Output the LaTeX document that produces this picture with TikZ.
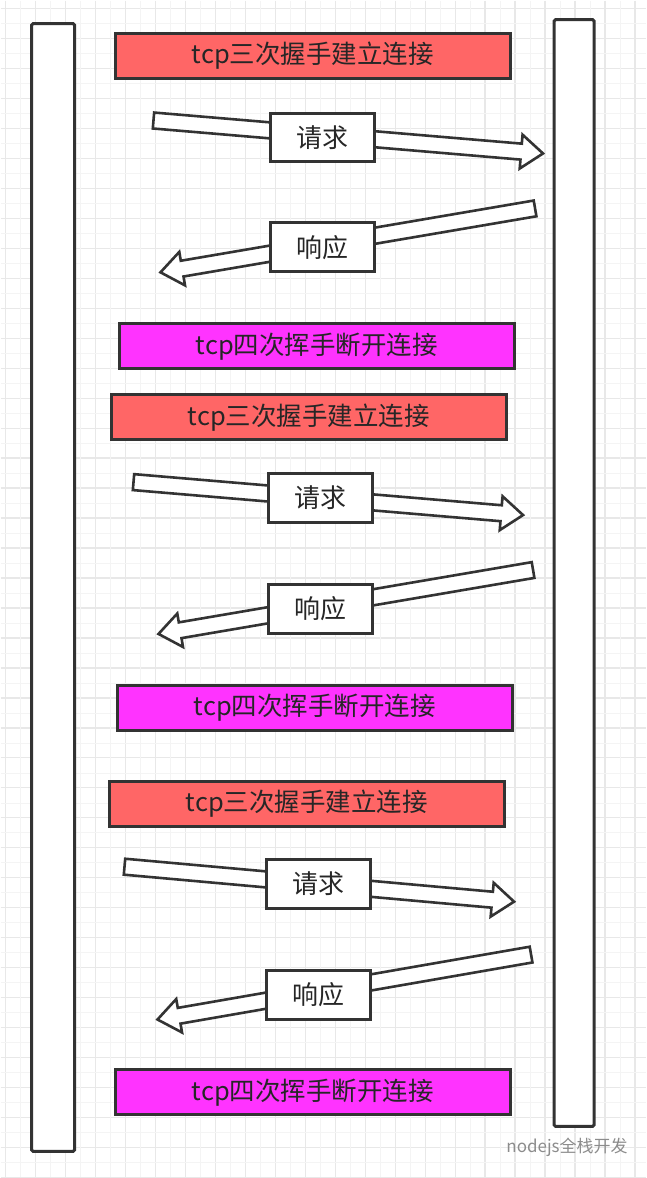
\documentclass[tikz,border=0pt]{standalone}
\usepackage{fontspec}
\setmainfont{Noto Sans CJK SC}
\usetikzlibrary{calc}
\definecolor{redbox}{HTML}{FF6666}
\definecolor{magbox}{HTML}{FF33FF}
\definecolor{edge}{HTML}{333333}
\definecolor{gridc}{HTML}{E8E8E8}
\newcommand\harrow[2]{\draw[edge,fill=white,line width=2.6pt,line join=miter] let \p1=(#1),\p2=(#2),\n1={atan2(\y2-\y1,\x2-\x1)},\n2={veclen(\x2-\x1,\y2-\y1)} in [shift={(\p1)},rotate=\n1] (0,-8)--({\n2-22},-8)--({\n2-22},-17)--({\n2},0)--({\n2-22},17)--({\n2-22},8)--(0,8)--cycle;}
\begin{document}
\begin{tikzpicture}[x=1pt,y=-1pt,
  bar/.style={draw=edge,fill=white,line width=3pt,rounded corners=1.5pt},
  band/.style={draw=edge,line width=3pt,minimum height=45pt,font=\fontsize{25.5}{27}\selectfont,text=black!85,inner sep=0pt},
  hs/.style={band,fill=redbox,minimum width=396pt},
  hf/.style={band,fill=magbox,minimum width=396pt},
  lab/.style={draw=edge,fill=white,line width=3pt,minimum width=104pt,minimum height=49pt,font=\fontsize{26}{28}\selectfont,text=black!85,inner sep=0pt}]
\fill[white] (0,0) rectangle (646,1178);
\foreach \x in {5,35,...,646} \draw[gridc,line width=1.3pt] (\x,0)--(\x,1178);
\foreach \y in {8,38,...,1178} \draw[gridc,line width=1.3pt] (0,\y)--(646,\y);
\foreach \x in {20,50,...,646} \draw[gridc!50,line width=0.5pt] (\x,0)--(\x,1178);
\foreach \y in {23,53,...,1178} \draw[gridc!50,line width=0.5pt] (0,\y)--(646,\y);
\useasboundingbox (0,0) rectangle (646,1178);
\draw[bar] (31,23) rectangle (74,1152);
\draw[bar] (554,19) rectangle (594,1127);
% group 1
\node[hs] (s1) at (312.5,55.5) {tcp三次握手建立连接};
\coordinate (q1a) at (153,120); \coordinate (q1b) at (543,153);
\harrow{q1a}{q1b}
\node[lab] (q1) at (322.5,137) {请求};
\coordinate (r1a) at (535,208); \coordinate (r1b) at (160,272);
\harrow{r1a}{r1b}
\node[lab] (r1) at (322.5,247) {响应};
\node[hf] (f1) at (316.5,346) {tcp四次挥手断开连接};
% group 2
\node[hs] (s2) at (308.5,417) {tcp三次握手建立连接};
\coordinate (q2a) at (133,482); \coordinate (q2b) at (523,515);
\harrow{q2a}{q2b}
\node[lab] (q2) at (320.5,498) {请求};
\coordinate (r2a) at (533,570); \coordinate (r2b) at (158,634);
\harrow{r2a}{r2b}
\node[lab] (r2) at (320.5,609) {响应};
\node[hf] (f2) at (314.5,708) {tcp四次挥手断开连接};
% group 3
\node[hs] (s3) at (306.5,804) {tcp三次握手建立连接};
\coordinate (q3a) at (124,867); \coordinate (q3b) at (514,902);
\harrow{q3a}{q3b}
\node[lab] (q3) at (318.5,884) {请求};
\coordinate (r3a) at (531,955); \coordinate (r3b) at (157,1020);
\harrow{r3a}{r3b}
\node[lab] (r3) at (318.5,995) {响应};
\node[hf] (f3) at (312.5,1093) {tcp四次挥手断开连接};
\node[text=black!45,font=\fontsize{17}{18}\selectfont] (wm) at (567,1148) {nodejs全栈开发};
\end{tikzpicture}
\end{document}
